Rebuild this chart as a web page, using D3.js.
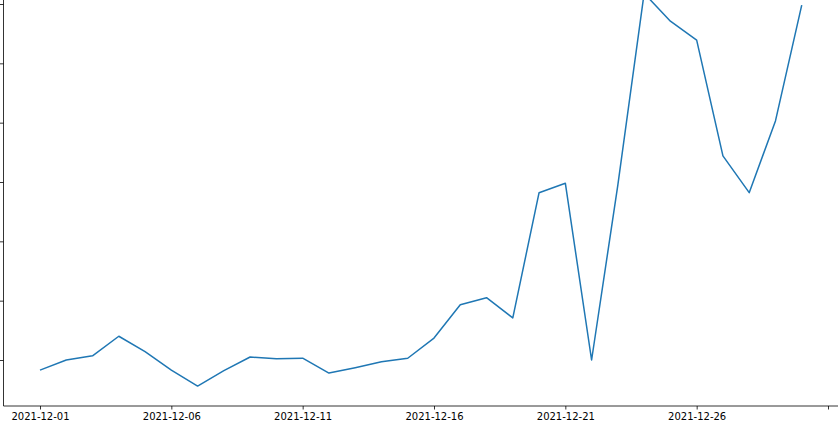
<!DOCTYPE html>
<meta charset="utf-8">
<head>
<script src="https://d3js.org/d3.v7.min.js"></script>
<style>
  body { margin: 0; background: #fff; }
  .tick text { font-family: "DejaVu Sans", sans-serif; font-size: 10px; fill: #000; }
</style>
</head>
<body>
<svg id="chart" width="838" height="425"></svg>
<script>

// daily values, 2021-12-01 .. 2021-12-30
var startDate = "2021-12-01";
var values = [83, 100, 107, 140, 114, 83, 56, 82, 105, 102,
              103, 78, 87, 97, 103, 137, 193, 205, 171, 382,
              398, 100, 395, 718, 671, 639, 444, 382, 503, 698];
var yTicks = [100, 200, 300, 400, 500, 600, 700];
var xTickLabels = ["2021-12-01", "2021-12-06", "2021-12-11", "2021-12-16", "2021-12-21", "2021-12-26", ""];

var parse = d3.timeParse("%Y-%m-%d");
var day0 = parse(startDate);
var data = values.map(function(v, i) { return { date: d3.timeDay.offset(day0, i), value: v }; });

var svg = d3.select("#chart"),
    width = +svg.attr("width"),
    height = +svg.attr("height");

var left = 3.5, bottom = 406;

// tick positions: Dec 1 -> 40px, Dec 31 -> 828px
var x = d3.scaleTime()
    .domain([day0, d3.timeDay.offset(day0, 30)])
    .range([40, 828]);
x.domain([x.invert(left), x.invert(width)]).range([left, width]);

var y = d3.scaleLinear()
    .domain([100, 700])
    .range([360, 4]);

var tickDates = d3.range(7).map(function(i) { return d3.timeDay.offset(day0, i * 5); });

var xAxis = d3.axisBottom(x)
    .tickValues(tickDates)
    .tickSize(3.5)
    .tickPadding(3.5)
    .tickFormat(function(d, i) { return xTickLabels[i]; });

var gx = svg.append("g")
    .attr("transform", "translate(0," + bottom + ")")
    .call(xAxis);
gx.select(".domain").remove();
gx.selectAll(".tick line").attr("stroke", "#000").attr("stroke-width", 0.8);

var yAxis = d3.axisLeft(y)
    .tickValues(yTicks)
    .tickSize(3.5)
    .tickFormat("");

var gy = svg.append("g")
    .attr("transform", "translate(" + left + ",0)")
    .call(yAxis);
gy.select(".domain").remove();
gy.selectAll(".tick line").attr("stroke", "#000").attr("stroke-width", 0.8);

// spines
svg.append("line")
    .attr("x1", left).attr("x2", width)
    .attr("y1", bottom).attr("y2", bottom)
    .attr("stroke", "#000").attr("stroke-width", 0.8);
svg.append("line")
    .attr("x1", left).attr("x2", left)
    .attr("y1", 0).attr("y2", bottom)
    .attr("stroke", "#000").attr("stroke-width", 0.8);

var line = d3.line()
    .x(function(d) { return x(d.date); })
    .y(function(d) { return y(d.value); });

svg.append("path")
    .datum(data)
    .attr("fill", "none")
    .attr("stroke", "#1f77b4")
    .attr("stroke-width", 1.5)
    .attr("stroke-linejoin", "round")
    .attr("d", line);

</script>
</body>
</html>
